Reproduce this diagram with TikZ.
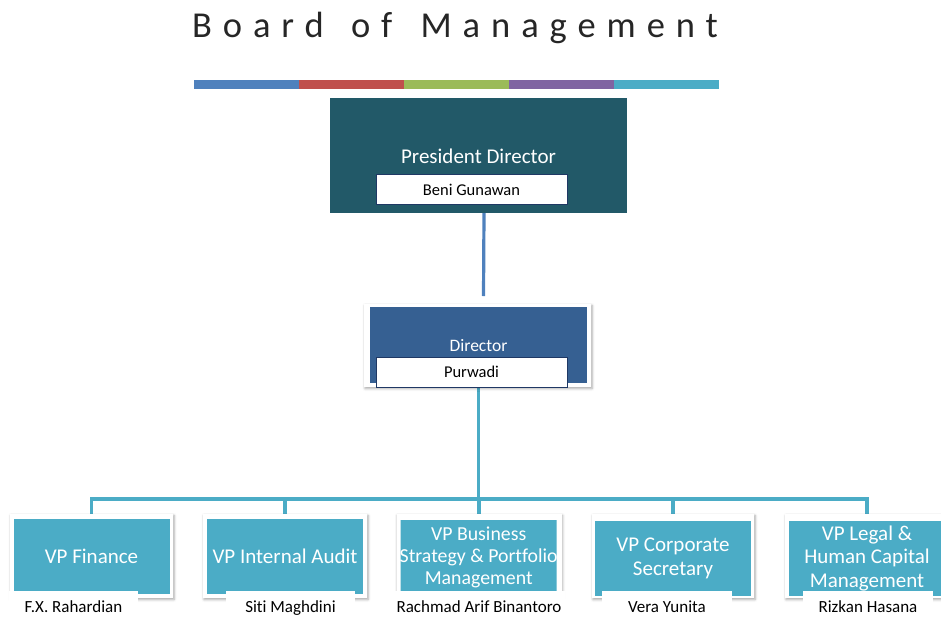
\documentclass[tikz,border=0pt]{standalone}
\usepackage{fontspec}
\setmainfont{Carlito}[Ligatures=NoCommon]
\usetikzlibrary{shadows.blur,backgrounds}
\definecolor{titlec}{RGB}{38,38,38}
\definecolor{presc}{RGB}{34,89,104}
\definecolor{dirc}{RGB}{54,96,146}
\definecolor{vpc}{RGB}{75,172,198}
\definecolor{navyc}{RGB}{31,56,100}
\definecolor{linkblue}{RGB}{79,129,189}
\definecolor{barblue}{RGB}{79,129,189}
\definecolor{barred}{RGB}{192,80,77}
\definecolor{bargreen}{RGB}{155,187,89}
\definecolor{barpurple}{RGB}{128,100,162}
\definecolor{barcyan}{RGB}{75,172,198}
\tikzset{
  plainbox/.style={rectangle, inner sep=0pt, outer sep=0pt},
  shadowframe/.style={plainbox, fill=white,
    blur shadow={shadow xshift=1pt, shadow yshift=-1.5pt, shadow blur radius=2.5pt, shadow opacity=35}},
  vpfill/.style={plainbox, fill=vpc, text=white, minimum width=156pt, minimum height=75pt,
    align=center, font=\fontsize{21}{23.5}\selectfont},
  vpname/.style={plainbox, fill=white, text=black, minimum width=130pt, minimum height=25pt,
    text height=20.5pt, text depth=2pt, font=\fontsize{17}{19}\selectfont},
  topname/.style={plainbox, fill=white, draw=navyc, line width=0.9pt, text=black,
    minimum width=191pt, minimum height=30pt, text height=12.5pt, text depth=1pt,
    font=\fontsize{16.5}{18}\selectfont},
  conA/.style={draw=linkblue, line width=3.2pt},
  conB/.style={draw=vpc, line width=3.2pt},
}
\begin{document}
\begin{tikzpicture}[x=1pt,y=-1pt]
\useasboundingbox (0,0) rectangle (941,616);

% title and colour bar
\node[anchor=base, text=titlec, font=\fontsize{36.5}{40}\selectfont\addfontfeatures{LetterSpace=30}] (title) at (455,37.5) {Board\hspace{8pt} of\hspace{9pt} Management};
\fill[barblue]   (194,80) rectangle (299,88.5);
\fill[barred]    (299,80) rectangle (404,88.5);
\fill[bargreen]  (404,80) rectangle (509,88.5);
\fill[barpurple] (509,80) rectangle (614,88.5);
\fill[barcyan]   (614,80) rectangle (719,88.5);

% President Director
\node[plainbox, fill=presc, text=white, minimum width=297pt, minimum height=115pt,
  text height=17pt, text depth=1pt,
  font=\fontsize{21}{23}\selectfont] (pres) at (478.5,155.5) {President Director};
\node[topname] (presname) at (471.5,189.5) {Beni Gunawan};

% Director
\node[shadowframe, minimum width=227pt, minimum height=83pt] (dirframe) at (477.5,345.5) {};
\node[plainbox, fill=dirc, text=white, minimum width=217pt, minimum height=76pt,
  text height=13pt, text depth=1pt,
  font=\fontsize{17.5}{20}\selectfont] (dirfill) at (478.5,345) {Director};
\node[topname, text height=12pt, text depth=1.4pt] (dirname) at (471.5,372) {Purwadi};

% VP boxes: frames
\node[shadowframe, minimum width=163pt, minimum height=84pt] (f1) at (91.5,556) {};
\node[shadowframe, minimum width=164pt, minimum height=84pt] (f2) at (285,556) {};
\node[shadowframe, minimum width=165pt, minimum height=84pt] (f3) at (479,556) {};
\node[shadowframe, minimum width=162pt, minimum height=84pt] (f4) at (673,556) {};
\node[shadowframe, minimum width=164pt, minimum height=84pt] (f5) at (867,556) {};

% VP fills
\node[vpfill] (v1) at (91.5,556.5) {VP Finance};
\node[vpfill] (v2) at (285,556.5) {VP Internal Audit};
\begin{scope}
  \clip (400.7,519) rectangle (556.7,594);
  \node[vpfill, font=\fontsize{19.8}{21.7}\selectfont] (v3) at (478.7,557.5) {VP Business\\Strategy \& Portfolio\\Management};
\end{scope}
\node[vpfill] (v4) at (673,558.5) {VP Corporate\\Secretary};
\node[vpfill] (v5) at (867,558.5) {VP Legal \&\\Human Capital\\Management};

% VP names
\node[vpname, minimum width=129pt] (n1) at (73.5,603.5) {F.X. Rahardian};
\node[vpname, minimum width=129pt] (n2) at (290.5,603.5) {Siti Maghdini};
\node[vpname, minimum width=172pt] (n3) at (479,603.5) {Rachmad Arif Binantoro};
\node[vpname, minimum width=130pt] (n4) at (667,603.5) {Vera Yunita};
\node[vpname, minimum width=130pt] (n5) at (868,603.5) {Rizkan Hasana};

% connectors
\coordinate (bus) at (478.5,499);
\begin{scope}[on background layer]
  \draw[conA] ([shift={(5.5,0)}]pres.south) -- ([shift={(6,-8)}]dirframe.north);
  \draw[conB] (dirfill.south) -- (bus);
  \draw[conB] (f1.north) -- (f1.north |- bus) -- (f5.north |- bus) -- (f5.north);
  \draw[conB] (f2.north) -- (f2.north |- bus);
  \draw[conB] (f3.north) -- (f3.north |- bus);
  \draw[conB] (f4.north) -- (f4.north |- bus);
\end{scope}
\end{tikzpicture}
\end{document}
